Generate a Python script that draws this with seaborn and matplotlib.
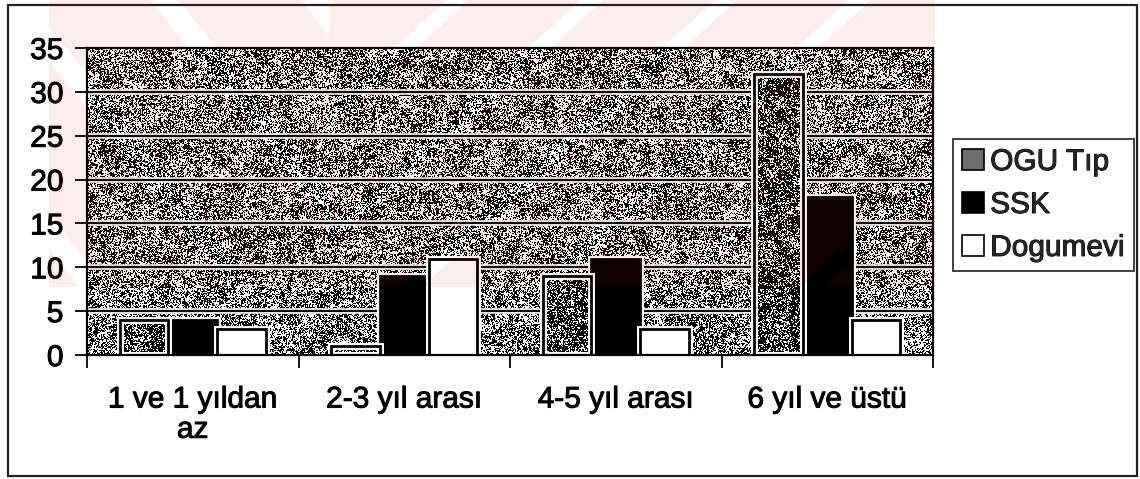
import numpy as np
import pandas as pd
import matplotlib
matplotlib.use("Agg")
import matplotlib.pyplot as plt
import matplotlib.patheffects as pe
from matplotlib.patches import Rectangle
import seaborn as sns

# ---- data -------------------------------------------------------------
categories = ["1 ve 1 yıldan\naz", "2-3 yıl arası", "4-5 yıl arası", "6 yıl ve üstü"]
series_names = ["OGU Tıp", "SSK", "Dogumevi"]
ogu_tip = [4, 1, 9, 32]
ssk = [4, 9, 11, 18]
dogumevi = [3, 11, 3, 4]
y_ticks = [0, 5, 10, 15, 20, 25, 30, 35]

df = pd.DataFrame({
    "kategori": categories * len(series_names),
    "grup": [s for s in series_names for _ in categories],
    "deger": ogu_tip + ssk + dogumevi,
})

palette = {"OGU Tıp": "#6e6e6e", "SSK": "#000000", "Dogumevi": "#ffffff"}

sns.set_theme(style="white")
plt.rcParams["font.family"] = ["Liberation Sans", "DejaVu Sans"]

FS = 21.5
W, H, DPI = 1140, 479, 100
AX_L, AX_R, AX_T, AX_B = 87, 933, 48, 355
fig = plt.figure(figsize=(W / DPI, H / DPI), dpi=DPI)
fig.patch.set_facecolor("white")
ax = fig.add_axes([AX_L / W, 1 - AX_B / H, (AX_R - AX_L) / W, (AX_B - AX_T) / H])

rng = np.random.default_rng(11)


def speckle(h, w, level):
    """Binary stipple texture (0 = black, 1 = white)."""
    h, w = max(h, 1), max(w, 1)
    fine = rng.random((h, w))
    coarse = np.kron(rng.random(((h + 1) // 2, (w + 1) // 2)), np.ones((2, 2)))[:h, :w]
    blotch = np.kron(rng.random(((h + 11) // 12, (w + 11) // 12)), np.ones((12, 12)))[:h, :w]
    val = 0.55 * fine + 0.3 * coarse + 0.15 * blotch
    return np.where(val < level, 0.0, 1.0)


sns.barplot(
    data=df, x="kategori", y="deger", hue="grup",
    order=categories, hue_order=series_names, palette=palette,
    width=0.69, saturation=1, edgecolor="black", linewidth=2.0,
    errorbar=None, zorder=2, ax=ax,
)

handles, labels = ax.get_legend_handles_labels()
if ax.get_legend() is not None:
    ax.get_legend().remove()

n_cat = len(categories)
y_max = y_ticks[-1]
px_x = (AX_R - AX_L) / n_cat
px_y = (AX_B - AX_T) / y_max

# stippled plot-area background
ax.imshow(speckle(AX_B - AX_T, AX_R - AX_L, 0.51), cmap="gray", vmin=0, vmax=1,
          extent=(-0.5, n_cat - 0.5, 0, y_max), aspect="auto",
          interpolation="nearest", zorder=0.1)

# horizontal gridlines with a light halo
for v in y_ticks[1:-1]:
    ax.axhline(v, color="white", lw=4.0, zorder=0.3)
    ax.axhline(v, color="black", lw=1.6, zorder=0.4)

halo = [pe.Stroke(linewidth=5.0, foreground="white"), pe.Normal()]
for ci, cont in enumerate(ax.containers):
    for patch in cont.patches:
        patch.set_path_effects(halo)
        if series_names[ci] == "OGU Tıp":
            x0, w, h = patch.get_x(), patch.get_width(), patch.get_height()
            tex = speckle(int(round(h * px_y)) + 1, int(round(w * px_x)) + 1, 0.6)
            im = ax.imshow(tex, cmap="gray", vmin=0, vmax=1,
                           extent=(x0, x0 + w, 0, h), aspect="auto",
                           interpolation="nearest", zorder=2.1)
            im.set_clip_path(patch)
            outline = Rectangle((x0, 0), w, h, fill=False, edgecolor="black",
                                lw=2.0, zorder=2.2)
            outline.set_path_effects(halo)
            ax.add_patch(outline)

ax.set_xlim(-0.5, n_cat - 0.5)
ax.set_ylim(0, y_max)
ax.set_xlabel("")
ax.set_ylabel("")

ax.set_yticks(y_ticks)
ax.tick_params(axis="y", left=True, direction="out", length=9, width=1.3,
               color="black", pad=8, labelsize=FS, labelcolor="black")
ax.set_xticks(range(n_cat))
ax.set_xticklabels(categories, linespacing=1.1)
ax.set_xticks(np.arange(n_cat + 1) - 0.5, minor=True)
ax.tick_params(axis="x", which="major", bottom=False, length=0, pad=22,
               labelsize=FS, labelcolor="black")
ax.tick_params(axis="x", which="minor", bottom=True, direction="out",
               length=9, width=1.3, color="black")

for sp in ax.spines.values():
    sp.set_visible(True)
    sp.set_color("black")
    sp.set_linewidth(1.6)
    sp.set_zorder(3)

leg = fig.legend(
    handles, labels, loc="center right",
    bbox_to_anchor=(1134 / W, 1 - 205 / H), bbox_transform=fig.transFigure,
    frameon=True, fancybox=False, shadow=False, edgecolor="black",
    fontsize=FS, handlelength=0.75, handleheight=0.7, handletextpad=0.2,
    labelspacing=0.5, borderpad=0.3, borderaxespad=0,
)
leg.get_frame().set_linewidth(1.3)
for hnd in leg.legend_handles:
    hnd.set_linewidth(1.2)
    hnd.set_edgecolor("black")
    hnd.set_path_effects([])

# slightly heavier lettering
ink = [pe.withStroke(linewidth=0.7, foreground="black")]
for t in ax.get_xticklabels() + ax.get_yticklabels() + leg.get_texts():
    t.set_path_effects(ink)

# outer chart border
fig.add_artist(Rectangle((8 / W, 1 - 476 / H), (1137 - 8) / W, (476 - 5) / H,
                         transform=fig.transFigure, fill=False,
                         edgecolor="#222222", lw=1.6, zorder=10))

# faint red stamp in the upper part of the page
ys, xs = np.mgrid[0:H, 0:W]
region = (ys < 287) & (xs > 48) & (xs < 935)
gap_left = ((xs - 0.8 * ys) % 150 < 28) & (xs < 330)
gap_right = (((xs + 1.1 * ys) % 134) > 44) & (((xs + 1.1 * ys) % 134) < 66) & (xs >= 330)
stamp = region & ~gap_left & ~gap_right
rgba = np.zeros((H, W, 4))
rgba[..., 0] = 230 / 255
rgba[..., 1] = 8 / 255
rgba[..., 2] = 8 / 255
rgba[..., 3] = np.where(stamp, 0.07, 0.0)
fig.figimage(rgba, xo=0, yo=0, origin="upper", zorder=20)

fig.savefig("out.png", dpi=DPI)
